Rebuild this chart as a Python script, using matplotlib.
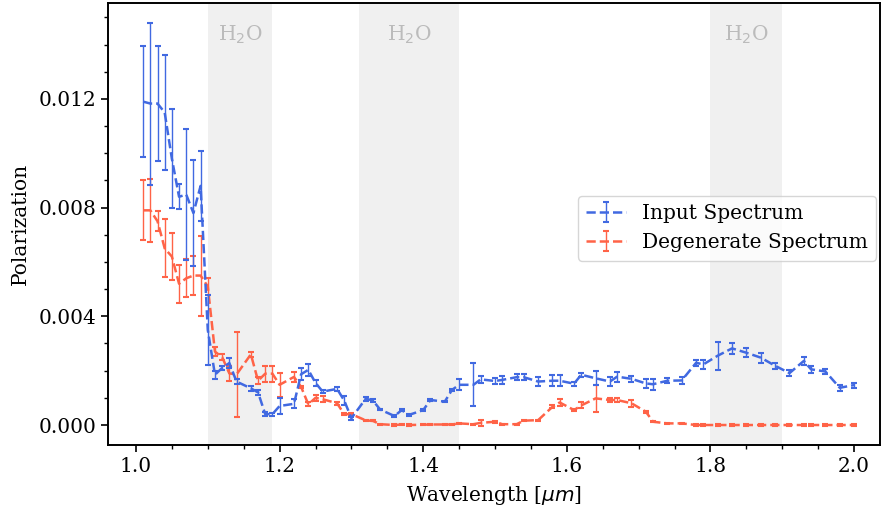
import numpy as np
import matplotlib
matplotlib.use("Agg")
import matplotlib.pyplot as plt
from matplotlib.ticker import MultipleLocator

plt.rcParams['font.family'] = 'DejaVu Serif'
plt.rcParams['font.size'] = 14.5

# wavelength grid (um)
wl = [1.01, 1.02, 1.03, 1.04, 1.05, 1.06, 1.07, 1.08, 1.09, 1.10,
      1.11, 1.12, 1.13, 1.14, 1.16, 1.17, 1.18, 1.19, 1.20, 1.22,
      1.23, 1.24, 1.25, 1.26, 1.28, 1.29, 1.30, 1.32, 1.33, 1.34,
      1.36, 1.37, 1.38, 1.40, 1.41, 1.43, 1.44, 1.45, 1.47, 1.48,
      1.50, 1.51, 1.53, 1.54, 1.56, 1.58, 1.59, 1.61, 1.62, 1.64,
      1.66, 1.67, 1.69, 1.71, 1.72, 1.74, 1.76, 1.78, 1.79, 1.81,
      1.83, 1.85, 1.87, 1.89, 1.91, 1.93, 1.94, 1.96, 1.98, 2.00]

input_pol = [0.0119, 0.01183, 0.01183, 0.0115, 0.0098, 0.0084, 0.00848, 0.0078, 0.0088, 0.0035,
             0.00185, 0.0021, 0.00228, 0.0016, 0.00135, 0.0012, 0.0004, 0.0004, 0.0007, 0.00078,
             0.00187, 0.00203, 0.00155, 0.00123, 0.00133, 0.0009, 0.00025, 0.00097, 0.0009, 0.00057,
             0.00033, 0.00055, 0.00037, 0.00055, 0.00092, 0.00086, 0.00129, 0.00148, 0.00148, 0.00168,
             0.00162, 0.00166, 0.00176, 0.00176, 0.0016, 0.00163, 0.00163, 0.00152, 0.00185, 0.00172,
             0.0016, 0.00178, 0.0017, 0.00153, 0.0015, 0.00163, 0.00164, 0.00229, 0.00223, 0.00255,
             0.00282, 0.00266, 0.00248, 0.00218, 0.00191, 0.00236, 0.00205, 0.00197, 0.00137, 0.00147]
input_err = [0.00204, 0.00298, 0.0021, 0.0021, 0.00182, 0.00046, 0.0024, 0.00195, 0.0013, 0.0013,
             0.00015, 0.00007, 0.00018, 0.0001, 0.0001, 0.0001, 0.00008, 0.00005, 0.00028, 0.00017,
             0.00023, 0.00023, 0.0001, 0.00005, 0.00008, 0.00018, 0.00005, 0.00007, 0.00005, 0.00003,
             0.00003, 0.00003, 0.00003, 0.00003, 0.00004, 0.00003, 0.00005, 0.0002, 0.00079, 0.00012,
             0.00012, 0.00015, 0.00012, 0.00012, 0.00016, 0.0002, 0.0002, 0.00008, 0.00007, 0.00025,
             0.00017, 0.00018, 0.0001, 0.00016, 0.0002, 0.00009, 0.00014, 0.0001, 0.00017, 0.00052,
             0.00021, 0.00017, 0.00018, 0.00012, 0.00011, 0.00015, 0.00013, 0.00009, 0.0001, 0.00009]

degen_pol = [0.0079, 0.0079, 0.0075, 0.0065, 0.0062, 0.0052, 0.0054, 0.0055, 0.0055, 0.0051,
             0.0027, 0.0025, 0.0019, 0.00186, 0.0026, 0.00163, 0.00189, 0.00189, 0.00148, 0.00177,
             0.0014, 0.00076, 0.001, 0.00095, 0.0008, 0.0004, 0.0004, 0.00017, 0.00015, 0.00003,
             0.0, 0.00002, 0.0, 0.00001, 0.00002, 0.00002, 0.00002, 0.00006, 0.00003, 0.00008,
             0.00012, 0.00003, 0.00003, 0.00016, 0.00018, 0.00067, 0.00083, 0.00055, 0.00072, 0.00098,
             0.00092, 0.00092, 0.0008, 0.00049, 0.00012, 0.00006, 0.00006, 0.0, 0.0, 0.0,
             0.0, 0.0, 0.0, 0.0, 0.0, 0.0, 0.0, 0.0, 0.0, 0.0]
degen_err = [0.0011, 0.00117, 0.00036, 0.00107, 0.00085, 0.0007, 0.0007, 0.00072, 0.00147, 0.0003,
             0.00017, 0.0001, 0.00028, 0.00158, 0.0001, 0.00012, 0.0003, 0.0003, 0.00044, 0.00018,
             0.00005, 0.00007, 0.0001, 0.0001, 0.00005, 0.00003, 0.00003, 0.00002, 0.00002, 0.00002,
             0.00002, 0.00002, 0.00002, 0.00002, 0.00002, 0.00002, 0.00002, 0.00002, 0.00002, 0.00012,
             0.00003, 0.00002, 0.00002, 0.00003, 0.00002, 0.00005, 0.00013, 0.00005, 0.00011, 0.00049,
             0.00006, 0.00006, 0.00012, 0.00003, 0.00002, 0.00002, 0.00002, 0.00002, 0.00002, 0.00002,
             0.00002, 0.00002, 0.00002, 0.00002, 0.00002, 0.00002, 0.00002, 0.00002, 0.00002, 0.00002]

# water bands
bands = [(1.10, 1.19), (1.31, 1.45), (1.80, 1.90)]
band_label = 'H$_2$O'

fig = plt.figure(figsize=(8.82, 5.09), dpi=100)
ax = fig.add_axes([0.1224, 0.1257, 0.8753, 0.8684])

for lo, hi in bands:
    ax.axvspan(lo, hi, color='#f0f0f0', lw=0, zorder=0)
    ax.text((lo + hi) / 2, 0.01435, band_label, ha='center', va='center',
            color='#bbbbbb')

ax.errorbar(wl, input_pol, yerr=input_err, color='royalblue', ls='--', lw=1.8,
            elinewidth=1, capsize=2, capthick=1.5, label='Input Spectrum', zorder=3)
ax.errorbar(wl, degen_pol, yerr=degen_err, color='tomato', ls='--', lw=1.8,
            elinewidth=1, capsize=2, capthick=1.5, label='Degenerate Spectrum', zorder=2)

ax.set_xlim(0.961, 2.036)
ax.set_ylim(-0.000736, 0.01553)
ax.xaxis.set_major_locator(MultipleLocator(0.2))
ax.xaxis.set_minor_locator(MultipleLocator(0.05))
ax.yaxis.set_major_locator(MultipleLocator(0.004))
ax.yaxis.set_minor_locator(MultipleLocator(0.001))
ax.tick_params(which='major', length=5, width=1.2)
ax.tick_params(which='minor', length=3, width=1)
for s in ax.spines.values():
    s.set_linewidth(1.4)

ax.set_xlabel(r'Wavelength [$\mu m$]', labelpad=6)
ax.set_ylabel('Polarization', labelpad=6)
ax.legend(loc='center right', borderaxespad=0.2, bbox_to_anchor=(1.0, 0.49))

fig.savefig('out.png', dpi=100)
